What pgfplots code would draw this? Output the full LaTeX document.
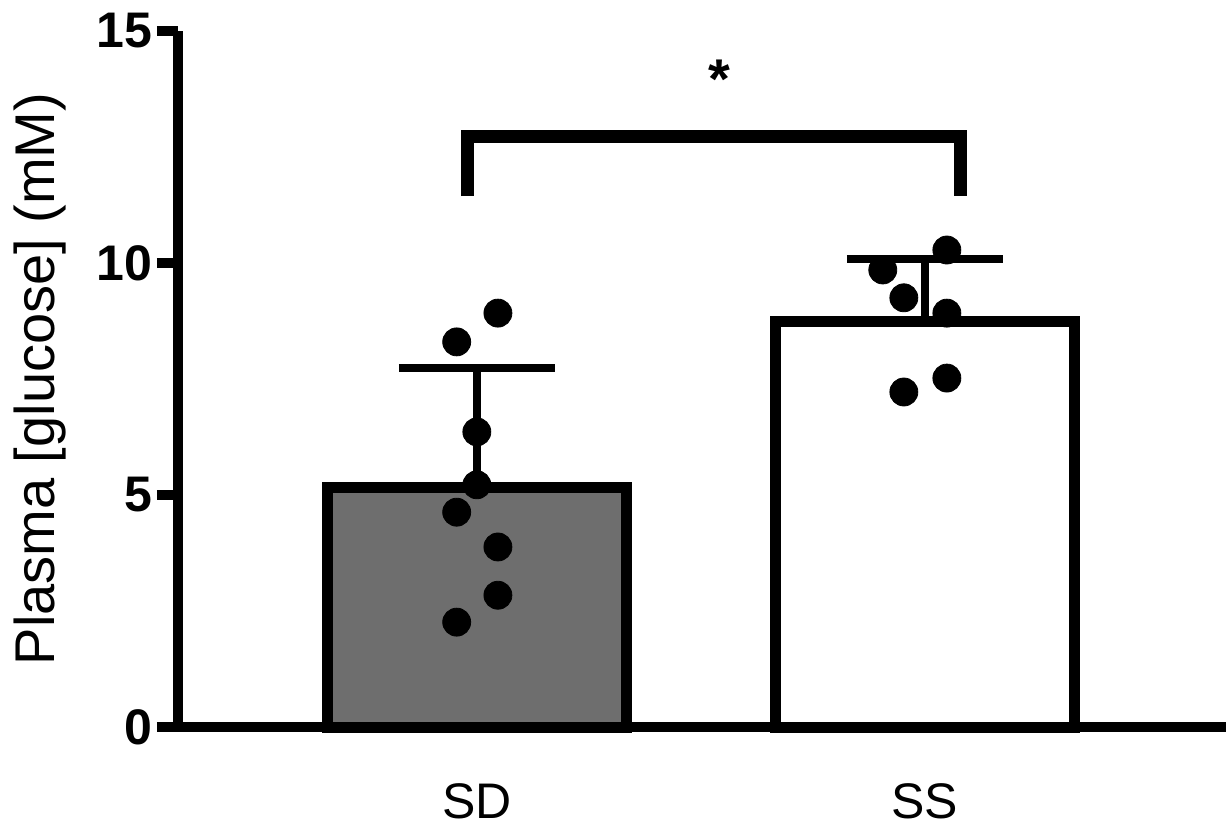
\documentclass[border=0pt]{standalone}
\usepackage{fontspec}
\setmainfont{Liberation Sans}
\usepackage{pgfplots}
\pgfplotsset{compat=1.18}
\definecolor{bargray}{RGB}{110,110,110}
\begin{document}
\begin{tikzpicture}
\begin{axis}[
  scale only axis, width=524pt, height=348pt,
  xmin=-0.667, xmax=1.672, ymin=0, ymax=15,
  axis lines=left,
  axis line style={-, line width=5pt, black},
  xtick={0,1}, xticklabels={SD,SS},
  ytick={0,5,10,15},
  tick align=outside,
  major tick length=10.5pt,
  y tick style={line width=5pt, black},
  x tick style={draw=none},
  /pgf/number format/assume math mode=true,
  yticklabel style={font=\fontsize{25}{25}\selectfont\bfseries, anchor=east, inner sep=0pt, xshift=-2pt},
  xticklabel style={font=\fontsize{25}{25}\selectfont, anchor=north, inner sep=0pt, yshift=-17.5pt},
  ylabel={Plasma [glucose] (mM)},
  ylabel style={font=\fontsize{28}{28}\selectfont, at={(axis description cs:-0.118,0.5)}, anchor=base},
  clip=false,
]
\addplot[ybar, bar width=0.667, bar shift=0pt, fill=bargray, draw=black, line width=5.5pt] coordinates {(0,5.16)};
\addplot[ybar, bar width=0.667, bar shift=0pt, fill=white, draw=black, line width=5.5pt] coordinates {(1,8.73)};
\addplot[black, mark=none, error bars/.cd, y dir=plus, y explicit, error mark=|,
  error bar style={line width=4pt, black},
  error mark options={line width=4pt, black, mark size=39pt}]
  coordinates {(0,5.16) +- (0,2.58)};
\addplot[black, mark=none, error bars/.cd, y dir=plus, y explicit, error mark=|,
  error bar style={line width=4pt, black},
  error mark options={line width=4pt, black, mark size=39pt}]
  coordinates {(1,8.73) +- (0,1.36)};
\addplot[black, line width=6.5pt, line join=miter, line cap=butt] coordinates {(-0.02,11.44) (-0.02,12.72) (1.08,12.72) (1.08,11.44)};
\addplot[only marks, mark=*, mark size=7pt, black] coordinates {
(0.047,8.92) (-0.045,8.30) (0,6.36) (0,5.22) (-0.045,4.63) (0.047,3.88) (0.047,2.84) (-0.045,2.26)};
\addplot[only marks, mark=*, mark size=7pt, black] coordinates {
(1.049,10.28) (0.906,9.85) (0.953,9.25) (1.049,8.92) (1.049,7.52) (0.953,7.22)};
\node[font=\fontsize{28}{28}\selectfont\bfseries, anchor=base, inner sep=0pt] at (axis cs:0.542,13.55) {*};
\end{axis}
\pgfresetboundingbox
\path[use as bounding box] (-89pt,-49.5pt) rectangle (527pt,363.5pt);
\end{tikzpicture}
\end{document}
